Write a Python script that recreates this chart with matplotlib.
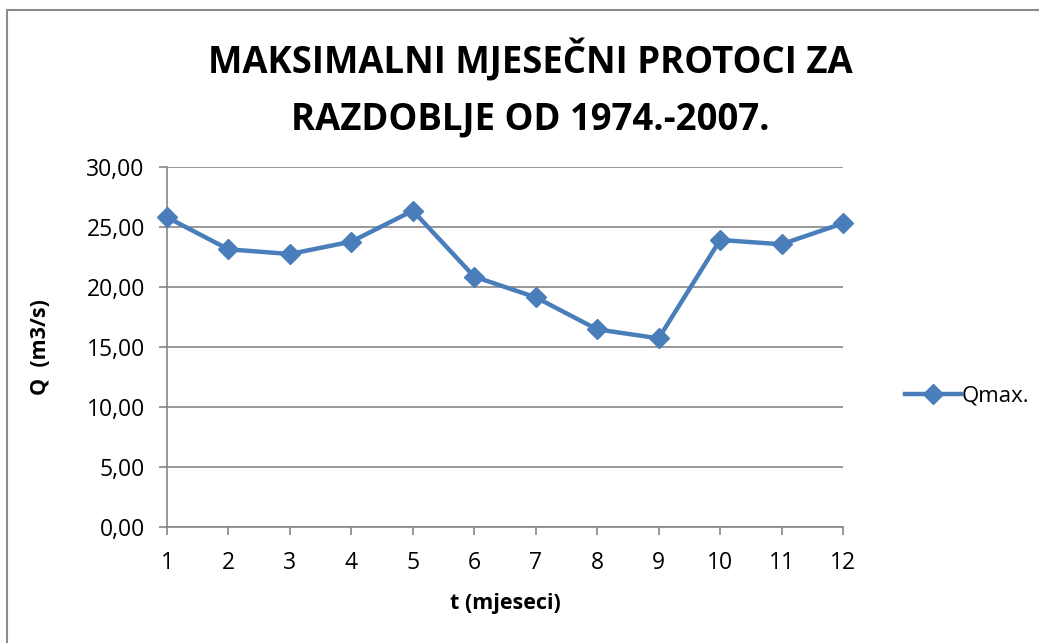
import matplotlib
matplotlib.use('Agg')

import matplotlib.pyplot as plt
from matplotlib.patches import Rectangle

plt.rcParams['font.family'] = ['Open Sans', 'DejaVu Sans']

# Data
months = [1, 2, 3, 4, 5, 6, 7, 8, 9, 10, 11, 12]
qmax = [25.81, 23.14, 22.75, 23.78, 26.36, 20.86, 19.14, 16.47, 15.72, 23.92, 23.56, 25.31]
y_ticks = [0, 5, 10, 15, 20, 25, 30]

W, H = 1039, 643
fig = plt.figure(figsize=(W / 100, H / 100), dpi=100)

# Chart-area border (Excel style), runs off the right/bottom edge
fig.patches.append(Rectangle((7 / W, -0.05), 1.2, 1 - 10 / H + 0.05, transform=fig.transFigure,
                             fill=False, edgecolor='#8c8c8c', lw=1.5))

ax = fig.add_axes([167 / W, 1 - 527 / H, (843 - 167) / W, (527 - 167) / H])

grid_c = '#868686'
ax.plot(months, qmax, color='#4A7EBB', lw=3.2, marker='D', markersize=10.5,
        label='Qmax.', clip_on=False, zorder=3)

ax.set_xlim(1, 12)
ax.set_ylim(0, 30)
ax.set_xticks(months)
ax.set_yticks(y_ticks)
ax.set_yticklabels([f'{v:.2f}'.replace('.', ',') for v in y_ticks])
ax.yaxis.grid(True, color=grid_c, lw=1.2)
ax.set_axisbelow(True)

for s in ['top', 'right']:
    ax.spines[s].set_visible(False)
for s in ['left', 'bottom']:
    ax.spines[s].set_color(grid_c)
    ax.spines[s].set_linewidth(1.2)
ax.tick_params(axis='both', colors=grid_c, length=6, width=1.2, labelsize=16.5,
               labelcolor='black')
ax.tick_params(axis='x', pad=11)
ax.tick_params(axis='y', pad=10)

ax.set_xlabel('t (mjeseci)', fontsize=15.5, fontweight='bold')
ax.set_ylabel('Q  (m3/s)', fontsize=15.5, fontweight='bold')
ax.xaxis.set_label_coords(0.5, (527 - 603) / 360, transform=ax.transAxes)
ax.yaxis.set_label_coords((40 - 167) / 676, 0.5, transform=ax.transAxes)
ax.xaxis.label.set_va('center')
ax.yaxis.label.set_va('center')

fig.text(530 / W, 1 - 89 / H, 'MAKSIMALNI MJESEČNI PROTOCI ZA\nRAZDOBLJE OD 1974.-2007.',
         ha='center', va='center', fontsize=26.3, fontweight='bold', linespacing=1.59)

ax.legend(loc='center left', bbox_to_anchor=(885 / W, 1 - 396 / H), bbox_transform=fig.transFigure,
          frameon=False, fontsize=16, handlelength=2.5, handletextpad=0.05)

fig.savefig('out.png', dpi=100)
